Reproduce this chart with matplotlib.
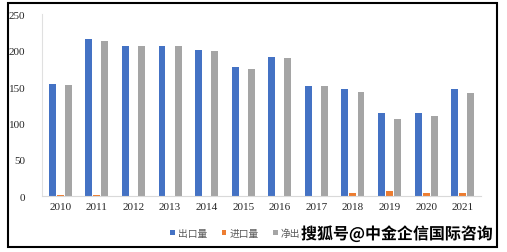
import matplotlib
matplotlib.use("Agg")
import matplotlib.pyplot as plt
import matplotlib.patheffects as pe
from matplotlib.patches import Rectangle
import numpy as np

years = ["2010", "2011", "2012", "2013", "2014", "2015", "2016", "2017", "2018", "2019", "2020", "2021"]
export = [154, 216, 207, 206, 201, 177, 191, 152, 148, 114, 115, 148]
imports = [1.2, 1.2, 0.4, 0.3, 0.3, 0.3, 0.3, 0.6, 4, 7, 4, 4]
net = [153, 214, 206, 206, 200, 175, 190, 151, 143, 106, 110, 142]
labels = ["出口量", "进口量", "净出口量"]
yticks = [0, 50, 100, 150, 200, 250]

W, H = 507, 253
fig = plt.figure(figsize=(W / 100, H / 100), dpi=100)
ax = fig.add_axes([42 / W, 1 - 197.3 / H, (481 - 42) / W, (197.3 - 15.3) / H])

x = np.arange(len(years))
bw = 0.19
step = 0.22
c_exp, c_imp, c_net = "#4472C4", "#ED7D31", "#A5A5A5"
ax.bar(x - step, export, bw, color=c_exp, label=labels[0], zorder=2)
ax.bar(x, imports, bw, color=c_imp, label=labels[1], zorder=2)
ax.bar(x + step, net, bw, color=c_net, label=labels[2], zorder=2)

ax.set_xlim(-0.5, len(years) - 0.5)
ax.set_ylim(0, 250)
ax.set_yticks(yticks)
ax.set_xticks(x)
ax.set_xticklabels(years)
for s in ["top", "right"]:
    ax.spines[s].set_visible(False)
ax.spines["left"].set_color("#E0E0E0")
ax.spines["bottom"].set_color("#D9D9D9")
ax.spines["left"].set_linewidth(0.8)
ax.tick_params(length=0, pad=4)
for t in ax.get_xticklabels() + ax.get_yticklabels():
    t.set_fontfamily("Liberation Serif")
    t.set_fontsize(8)
    t.set_color("#262626")
ax.tick_params(axis="y", pad=12)

leg = fig.legend(loc="center left", bbox_to_anchor=(170 / W, 1 - 234 / H), ncol=3,
                 frameon=False, prop={"family": ["Noto Sans CJK SC", "DejaVu Sans"], "size": 7},
                 handlelength=0.5, handleheight=0.5, handletextpad=0.3, columnspacing=1.5,
                 borderaxespad=0, borderpad=0)
for t in leg.get_texts():
    t.set_color("#595959")

# outer border
fig.patches.append(Rectangle((8 / W, 1 - 248 / H), (497 - 8) / W, (248 - 3.5) / H,
                             transform=fig.transFigure, fill=False, edgecolor="black",
                             linewidth=1.5, zorder=10))

fig.text(493 / W, 1 - 235 / H, "搜狐号@中金企信国际咨询", ha="right", va="center",
         fontsize=11.5, fontweight="bold", color="black",
         family=["Noto Sans CJK SC", "DejaVu Sans"],
         path_effects=[pe.withStroke(linewidth=2.5, foreground="white")], zorder=20)

fig.savefig("out.png", dpi=100)
